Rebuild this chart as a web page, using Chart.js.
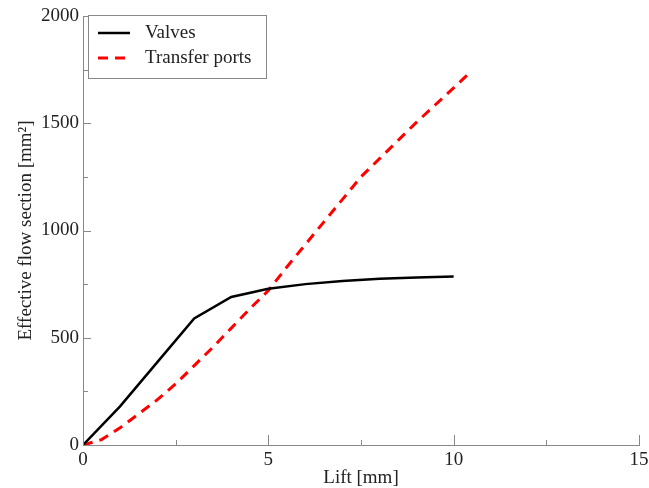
<!DOCTYPE html>
<html>
<head>
<meta charset="utf-8">
<script src="https://cdn.jsdelivr.net/npm/chart.js@4/dist/chart.umd.min.js"></script>
<style>
  html, body { margin: 0; padding: 0; background: #fff; }
  #wrap { width: 649px; height: 488px; }
</style>
</head>
<body>
<div id="wrap"><canvas id="chart"></canvas></div>
<script>
const liftValves = [0, 1, 2, 3, 4, 5, 6, 7, 8, 9, 10];
const valves = [0, 180, 385, 590, 690, 728, 750, 765, 775, 781, 786];

const liftPorts = [0, 0.5, 1, 1.5, 2, 2.5, 3, 3.5, 4, 4.5, 5, 5.5, 6, 6.5, 7, 7.5, 8, 8.5, 9, 9.5, 10, 10.4];
const ports = [0, 25, 80, 145, 210, 285, 370, 455, 545, 635, 720, 830, 935, 1040, 1145, 1250, 1335, 1420, 1505, 1585, 1665, 1730];

const xTicks = [0, 5, 10, 15];
const xMinor = [2.5, 7.5, 12.5];
const yTicks = [0, 500, 1000, 1500, 2000];
const yMinor = [250, 750, 1250, 1750];

const FONT = 'Liberation Serif';
const AXIS = '#888';
const TEXT = '#222';

const toPoints = (xs, ys) => xs.map((x, i) => ({ x, y: ys[i] }));

// inward tick marks, like the original plot
const innerTicks = {
  id: 'innerTicks',
  afterDraw(chart) {
    const { ctx, scales: { x, y } } = chart;
    const x0 = x.getPixelForValue(0);
    const y0 = y.getPixelForValue(0);
    ctx.save();
    ctx.strokeStyle = AXIS;
    ctx.lineWidth = 1;
    ctx.beginPath();
    const vx = (v, len) => {
      const p = Math.round(x.getPixelForValue(v)) + 0.5;
      ctx.moveTo(p, y0);
      ctx.lineTo(p, y0 - len);
    };
    const hy = (v, len) => {
      const p = Math.round(y.getPixelForValue(v)) + 0.5;
      ctx.moveTo(x0, p);
      ctx.lineTo(x0 + len, p);
    };
    xTicks.forEach((v) => vx(v, 10));
    xMinor.forEach((v) => vx(v, 5));
    yTicks.forEach((v) => hy(v, 8));
    yMinor.forEach((v) => hy(v, 5));
    ctx.stroke();
    ctx.restore();
  },
};

// boxed legend in the top-left corner
const boxLegend = {
  id: 'boxLegend',
  afterDraw(chart) {
    const { ctx } = chart;
    ctx.save();
    ctx.fillStyle = '#fff';
    ctx.fillRect(88, 15, 178, 63);
    ctx.strokeStyle = AXIS;
    ctx.lineWidth = 1;
    ctx.strokeRect(88.5, 15.5, 178, 63);
    ctx.font = `19px "${FONT}"`;
    ctx.textBaseline = 'middle';
    chart.data.datasets.forEach((ds, i) => {
      const yy = 33 + i * 25;
      ctx.strokeStyle = ds.borderColor;
      ctx.lineWidth = ds.borderWidth;
      ctx.setLineDash(ds.borderDash || []);
      ctx.beginPath();
      ctx.moveTo(98, yy);
      ctx.lineTo(130, yy);
      ctx.stroke();
      ctx.setLineDash([]);
      ctx.fillStyle = TEXT;
      ctx.fillText(ds.label, 145, yy);
    });
    ctx.restore();
  },
};

new Chart(document.getElementById('chart'), {
  type: 'line',
  data: {
    datasets: [
      {
        label: 'Valves',
        data: toPoints(liftValves, valves),
        borderColor: '#000',
        borderWidth: 2.5,
        pointRadius: 0,
        tension: 0,
        fill: false,
      },
      {
        label: 'Transfer ports',
        data: toPoints(liftPorts, ports),
        borderColor: '#ff0000',
        borderWidth: 3,
        borderDash: [10, 7],
        pointRadius: 0,
        tension: 0,
        fill: false,
      },
    ],
  },
  options: {
    responsive: true,
    maintainAspectRatio: false,
    animation: false,
    layout: { padding: { left: 0, right: 10, top: 16, bottom: 0 } },
    plugins: {
      legend: { display: false },
      tooltip: { enabled: false },
    },
    scales: {
      x: {
        type: 'linear',
        min: 0,
        max: 15,
        afterBuildTicks: (s) => { s.ticks = xTicks.map((v) => ({ value: v })); },
        afterFit: (s) => {
          s.height = 43;
          s.paddingLeft = 0;
          s.paddingRight = 0;
        },
        grid: { display: true, drawOnChartArea: false, drawTicks: false },
        border: { display: true, color: AXIS, width: 1 },
        ticks: {
          color: TEXT,
          padding: 4,
          maxRotation: 0,
          callback: (v) => String(v),
          font: { family: FONT, size: 19 },
        },
        title: {
          display: true,
          text: 'Lift [mm]',
          color: TEXT,
          font: { family: FONT, size: 19, lineHeight: 1 },
          padding: { top: 0, bottom: 0 },
        },
      },
      y: {
        min: 0,
        max: 2000,
        afterBuildTicks: (s) => { s.ticks = yTicks.map((v) => ({ value: v })); },
        afterFit: (s) => {
          s.width = 83;
          s.paddingTop = 0;
          s.paddingBottom = 0;
        },
        grid: { display: true, drawOnChartArea: false, drawTicks: false },
        border: { display: true, color: AXIS, width: 1 },
        ticks: {
          color: TEXT,
          padding: 4,
          callback: (v) => String(v),
          font: { family: FONT, size: 19 },
        },
        title: {
          display: true,
          text: 'Effective flow section [mm²]',
          color: TEXT,
          font: { family: FONT, size: 19, lineHeight: 1 },
          padding: { top: 17, bottom: 0 },
        },
      },
    },
  },
  plugins: [innerTicks, boxLegend],
});
</script>
</body>
</html>
